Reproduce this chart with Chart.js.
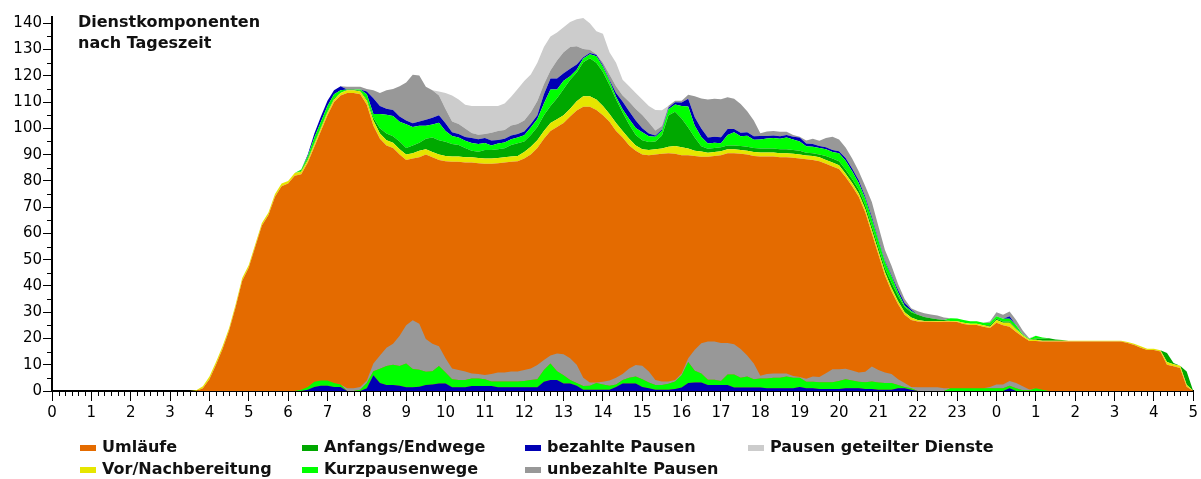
<!DOCTYPE html>
<html><head><meta charset="utf-8">
<script src="https://cdn.jsdelivr.net/npm/chart.js@4"></script>
<style>
html,body{margin:0;padding:0;background:#fff;}
#wrap{position:relative;width:1201px;height:479px;overflow:hidden;background:#fff;}
#c{position:absolute;left:0;top:0;}
#titel{position:absolute;left:78px;top:12px;font:bold 16px "DejaVu Sans";line-height:20.6px;color:#111;}
.lt{position:absolute;font:bold 16px "DejaVu Sans";line-height:22px;white-space:nowrap;color:#111;}
.sw{position:absolute;width:16px;height:6px;}
</style></head>
<body><div id="wrap"><canvas id="c" width="1201" height="479"></canvas>
<div id="titel">Dienstkomponenten<br>nach Tageszeit</div></div>
<script>
// Zeitraster: 10-Minuten-Schritte von 0:00 bis 5:00 des Folgetags (Minuten)
const minuten = Array.from({length: 175}, (_, i) => i * 10);

const umlaeufe = [
0,0,0,0,0,0, 0,0,0,0,0,0, 0,0,0,0,0,0, 0,0,0,0,0,1,
4.5,10,16,23,32,42, 47,55,63,67,74,78, 79,82,82.5,87,93,99,
105,110,112.5,113.5,113.5,113, 109,101,96,93.5,92.5,90, 88,88.5,89,90,89,88,
87.5,87.3,87.3,87,87,86.7, 86.5,86.5,86.7,87,87.3,87.5, 88.5,90,92.5,96,99,100.5,
102,104.5,106.8,108.2,108.2,107, 105,102.5,99,96.5,93.5,91.5, 90,89.8,90,90.3,90.5,90.3,
89.8,89.8,89.5,89.2,89.2,89.5, 89.8,90.5,90.5,90.3,90,89.5, 89.3,89.3,89.3,89,89,88.8,
88.5,88.2,88,87.5,86.5,85.5, 84.5,81.5,78,74,68,60, 52,44,38,33,29,27,
26.5,26.4,26.4,26.3,26.4,26.4, 26.3,25.5,25.1,25.1,24.5,24, 26,25,24.5,22.5,20.7,19,
19,18.8,18.8,18.8,18.8,18.8, 18.8,18.8,18.8,18.8,18.8,18.8, 18.8,18.8,18.3,17.5,16.5,15.6,
15.6,15,10,9.4,8.8,1.6, 0];

const vorNachbereitung = [
0,0,0,0,0,0, 0,0,0,0,0,0, 0,0,0,0,0,0, 0,0,0,0,0.3,0.8,
1,1,1,1,1,1, 1,1,1,1,1,1, 1,1,1,1,1,1,
1,1,1,1,1,1, 1.5,2,2,2,2,2, 2,2,2.5,2,2,2,
2,2,2,2,2,2, 2,2,2,2,2,2, 2.5,3,3,3,3,3,
3,3,3.5,4,4,4, 3.5,3,3,2.5,2.5,2, 2,2,2,2,2.5,3,
3,2.5,2,2,1.5,1.5, 1.5,1.5,1.5,1.5,1.5,1.5, 1.5,1.5,1.5,1.5,1.5,1.5,
1.5,1.5,1.5,1.5,1.5,1.5, 1.5,1.2,1.2,1.2,1.2,1.2, 1.2,1.2,1.2,1.2,1,1,
0.5,0.3,0.3,0.3,0.3,0.3, 0.3,0.5,0.5,0.5,0.5,0.5, 1,1,1.5,1,0.5,0.5,
0.5,0.3,0.3,0.3,0.3,0.3, 0.3,0.3,0.3,0.3,0.3,0.3, 0.3,0.3,0.4,0.5,0.5,0.5,
0.5,0.5,1,0.8,0.8,0.8, 0];

const anfangsEndwege = [
0,0,0,0,0,0, 0,0,0,0,0,0, 0,0,0,0,0,0, 0,0,0,0,0,0,
0,0,0,0,0,0, 0,0,0,0,0,0, 0,0,0.3,0.5,0.5,0.5,
0.5,0.5,0,0.3,0.3,0.3, 0.5,1,2,2.5,2.5,3, 2.5,3,3,4,5.5,5.5,
5.4,4.7,4.4,3.5,2.5,2.4, 3.3,3.3,3.3,3.4,4.4,4.8, 4,4.5,5,6,6.5,8,
10,11,11,13,14.5,14, 13,11,9,7,5.5,4, 3.5,3,3,5,12,13,
11,8,5,2,1.5,1.5, 1.5,1.5,1.5,1.5,1.5,1.5, 1.5,1.5,1.5,1.5,1.5,1.5,
1.5,1,1,1,1.5,1.5, 1.5,1.5,1.5,1.5,1.5,1.5, 1.5,1.5,2,2,2,2,
2,1.5,1,0.7,0.3,0, 0,0,0,0,0,0.5, 0.5,0.5,0.5,0.5,0,0,
0.5,0.8,1,0.5,0.3,0, 0,0,0,0,0,0, 0,0,0,0,0,0,
0,0,3.5,0.5,0,5, 0];

const kurzpausenwege = [
0,0,0,0,0,0, 0,0,0,0,0,0, 0,0,0,0,0,0, 0,0,0,0,0,0,
0,0,0,0,0,0, 0,0,0,0,0,0, 0,0,0.5,1,2,2,
2,1.5,1,0,0,0.5, 2,1.5,5.5,7.2,7.7,7.5, 9.1,7,6.5,5,5,6.6,
4.1,3.1,2.8,2.8,2.9,2.9, 2.6,1.7,2.2,2.2,2.2,2.2, 2.4,2.8,3.1,4.5,6.3,3.3,
3.1,1.3,1,1.4,1.5,2.5, 2,1.5,1,1.3,2.1,2.6, 3,2.2,1.8,1.8,2.3,2.8,
4.7,8,4.5,3.5,2,2, 1.5,4,5,3.7,4.2,3.2, 3.5,3.8,4,4,4.5,4,
3.5,2.5,2.5,2.5,2.5,2.5, 3,3.5,3,2.5,2.5,2.8, 2.7,2.5,2.5,1.3,0.5,0.5,
0,0,0,0,0,1, 1,1,1,1,1,1, 1,1,1,1,0.3,0.3,
1,0.5,0,0,0,0, 0,0,0,0,0,0, 0,0,0,0,0,0,
0,0,0,0,0,0, 0];

const bezahltePausen = [
0,0,0,0,0,0, 0,0,0,0,0,0, 0,0,0,0,0,0, 0,0,0,0,0,0,
0,0,0,0,0,0, 0,0,0,0,0,0, 0,0,0,0.5,1.5,2,
2,1.5,1.5,0,0,0, 1,6,3,2.3,2.3,2, 1.4,1.4,1.6,2.3,2.5,2.9,
2.9,1.4,1.4,1.4,1.9,1.9, 1.9,1.9,1.4,1.4,1.4,1.4, 1.4,1.4,1.4,3.5,4.2,4.2,
2.9,2.9,2,0.5,0.5,0.5, 0.5,0.5,1.5,2.9,2.9,2.9, 1.5,1,0.5,0.5,0.5,0.8,
1.3,3,3.2,3.2,2.3,2.3, 2.3,2.3,1.3,1.3,1.3,1.3, 1.3,1,1,1,1,1,
1.5,1,1,0.8,0.8,0.8, 0.8,1,1,1,0.8,0.8, 0.5,0.5,0.5,1,1,0.5,
0,0,0,0,0,0, 0,0,0,0,0,0, 0,0,1,0,0,0,
0,0,0,0,0,0, 0,0,0,0,0,0, 0,0,0,0,0,0,
0,0,0,0,0,0, 0];

const unbezahltePausen = [
0,0,0,0,0,0, 0,0,0,0,0,0, 0,0,0,0,0,0, 0,0,0,0,0,0,
0,0,0,0,0,0, 0,0,0,0,0,0, 0,0,0,0,0,0,
0,0,0,1,1,1, 1,3,5,7,8,11.5, 14.5,18.5,17.5,12.5,10.5,7.5,
5.5,4.1,3.8,3.2,1.9,1.7, 1.6,2.9,3.4,3.4,3.8,3.8, 4.2,4.4,5.4,3.8,3,6.8,
8,8.3,7,3.1,1.2,0.2, 1,2,2.5,2.3,3.6,4.4, 5.1,4.2,1.9,1.3,0.8,0.6,
0.7,1.5,8,11.5,14.5,14.5, 14.5,12,11.5,11,8,6, 1,1.7,1.7,1.7,1.2,0.7,
0.3,1.2,2,2,3.5,5, 4.5,4,3.8,3.5,4,5.7, 4.8,4,3.5,2.2,1.5,0.5,
1.4,1.4,1.4,1.4,1,0, 0,0,0,0,0,0.5, 1.5,1.5,1.8,2,1.5,0.3,
0,0,0,0,0,0, 0,0,0,0,0,0, 0,0,0,0,0,0,
0,0,0,0,0,0, 0];

const geteilteDienste = [
0,0,0,0,0,0, 0,0,0,0,0,0, 0,0,0,0,0,0, 0,0,0,0,0,0,
0,0,0,0,0,0, 0,0,0,0,0,0, 0,0,0,0,0,0,
0,0,0,0,0,0, 0,0,0,0,0,0, 0,0,0,0,0,1.5,
6.1,9.9,9.3,9.1,10.3,10.9, 10.6,10.2,9.5,10.1,10.9,13.3, 15,14.4,14.6,14.2,13,10.7,
9.5,9.5,10.2,11.8,10.1,8.8, 11,8.5,9,6,5.9,6.1, 5.9,6.3,7.8,6,0,0,
0,0,0,0,0,0, 0,0,0,0,0,0, 0,0,0,0,0,0,
0,0,0,0,0,0, 0,0,0,0,0,0, 0,0,0,0,0,0,
0,0,0,0,0,0, 0,0,0,0,0,0, 0,0,0,0,0,0,
0,0,0,0,0,0, 0,0,0,0,0,0, 0,0,0,0,0,0,
0,0,0,0,0,0, 0];

const stundenLabels = ['0','1','2','3','4','5','6','7','8','9','10','11','12','13','14','15','16','17','18','19','20','21','22','23','0','1','2','3','4','5'];

const serien = [
  {label:'Umläufe', data: umlaeufe, farbe:'#e46b00'},
  {label:'Vor/Nachbereitung', data: vorNachbereitung, farbe:'#e6e600'},
  {label:'Anfangs/Endwege', data: anfangsEndwege, farbe:'#00a800'},
  {label:'Kurzpausenwege', data: kurzpausenwege, farbe:'#00ff00'},
  {label:'bezahlte Pausen', data: bezahltePausen, farbe:'#0000b4'},
  {label:'unbezahlte Pausen', data: unbezahltePausen, farbe:'#989898'},
  {label:'Pausen geteilter Dienste', data: geteilteDienste, farbe:'#cccccc'}
];

const datasets = serien.map((s, i) => ({
  label: s.label, data: s.data, stack: 'gesamt', order: 1,
  fill: i === 0 ? 'origin' : '-1',
  backgroundColor: s.farbe, borderColor: 'transparent', borderWidth: 0,
  pointRadius: 0
}));
// Pausenanteile zusätzlich von der Nulllinie aus (bezahlte, Kurzpausenwege, unbezahlte)
[4, 3, 5].forEach((idx, k) => {
  datasets.push({
    label: '', data: serien[idx].data, stack: 'pausen', order: 0,
    fill: k === 0 ? 'origin' : '-1',
    backgroundColor: serien[idx].farbe, borderColor: 'transparent', borderWidth: 0,
    pointRadius: 0
  });
});

const kleinStriche = {
  id: 'kleinStriche',
  afterDraw(chart) {
    const {ctx, scales: {x, y}} = chart;
    ctx.save(); ctx.strokeStyle = '#000'; ctx.lineWidth = 1; ctx.beginPath();
    for (let m = 0; m <= 1740; m += 10) {
      if (m % 60 === 0) continue;
      const px = Math.round(x.getPixelForValue(m)) + 0.5;
      ctx.moveTo(px, y.bottom); ctx.lineTo(px, y.bottom + 5);
    }
    for (let v = 5; v < 142; v += 10) {
      const py = Math.round(y.getPixelForValue(v)) + 0.5;
      ctx.moveTo(x.left - 5, py); ctx.lineTo(x.left, py);
    }
    ctx.stroke(); ctx.restore();
  }
};

const schrift = {family: 'DejaVu Sans', size: 15};
new Chart(document.getElementById('c'), {
  type: 'line',
  data: { labels: minuten, datasets },
  plugins: [kleinStriche],
  options: {
    responsive: false, animation: false, devicePixelRatio: 1,
    layout: { padding: { top: 17, right: 7, left: 0, bottom: 0 } },
    plugins: { legend: { display: false }, tooltip: { enabled: false } },
    elements: { point: { radius: 0 }, line: { tension: 0 } },
    scales: {
      x: {
        type: 'linear', min: 0, max: 1740, z: 1,
        ticks: { stepSize: 60, autoSkip: false, maxRotation: 0, color: '#000', font: schrift, padding: 3,
          callback: v => (v % 60 === 0) ? stundenLabels[v / 60] : '' },
        grid: { drawOnChartArea: false, tickLength: 10, tickColor: '#000', tickWidth: 1 },
        border: { display: true, color: '#000', width: 2 },
        afterFit: s => { s.height = 88; }
      },
      y: {
        stacked: true, min: 0, max: 142.4, z: 1,
        ticks: { stepSize: 10, includeBounds: false, color: '#000', font: schrift, padding: 1 },
        grid: { drawOnChartArea: false, tickLength: 9, tickColor: '#000', tickWidth: 1 },
        border: { display: true, color: '#000', width: 2 },
        afterFit: s => { s.width = 52; }
      }
    }
  }
});

// Legende (spaltenweise wie im Original)
const wrap = document.getElementById('wrap');
const spaltenX = [80, 302, 525, 748];
const zeilenY = [436, 458];
serien.forEach((s, i) => {
  const sp = Math.floor(i / 2), ze = i % 2;
  const sw = document.createElement('div');
  sw.className = 'sw'; sw.style.background = s.farbe;
  sw.style.left = spaltenX[sp] + 'px'; sw.style.top = (zeilenY[ze] + 9) + 'px';
  const t = document.createElement('div');
  t.className = 'lt'; t.textContent = s.label;
  t.style.left = (spaltenX[sp] + 22) + 'px'; t.style.top = zeilenY[ze] + 'px';
  wrap.appendChild(sw); wrap.appendChild(t);
});
</script></body></html>
